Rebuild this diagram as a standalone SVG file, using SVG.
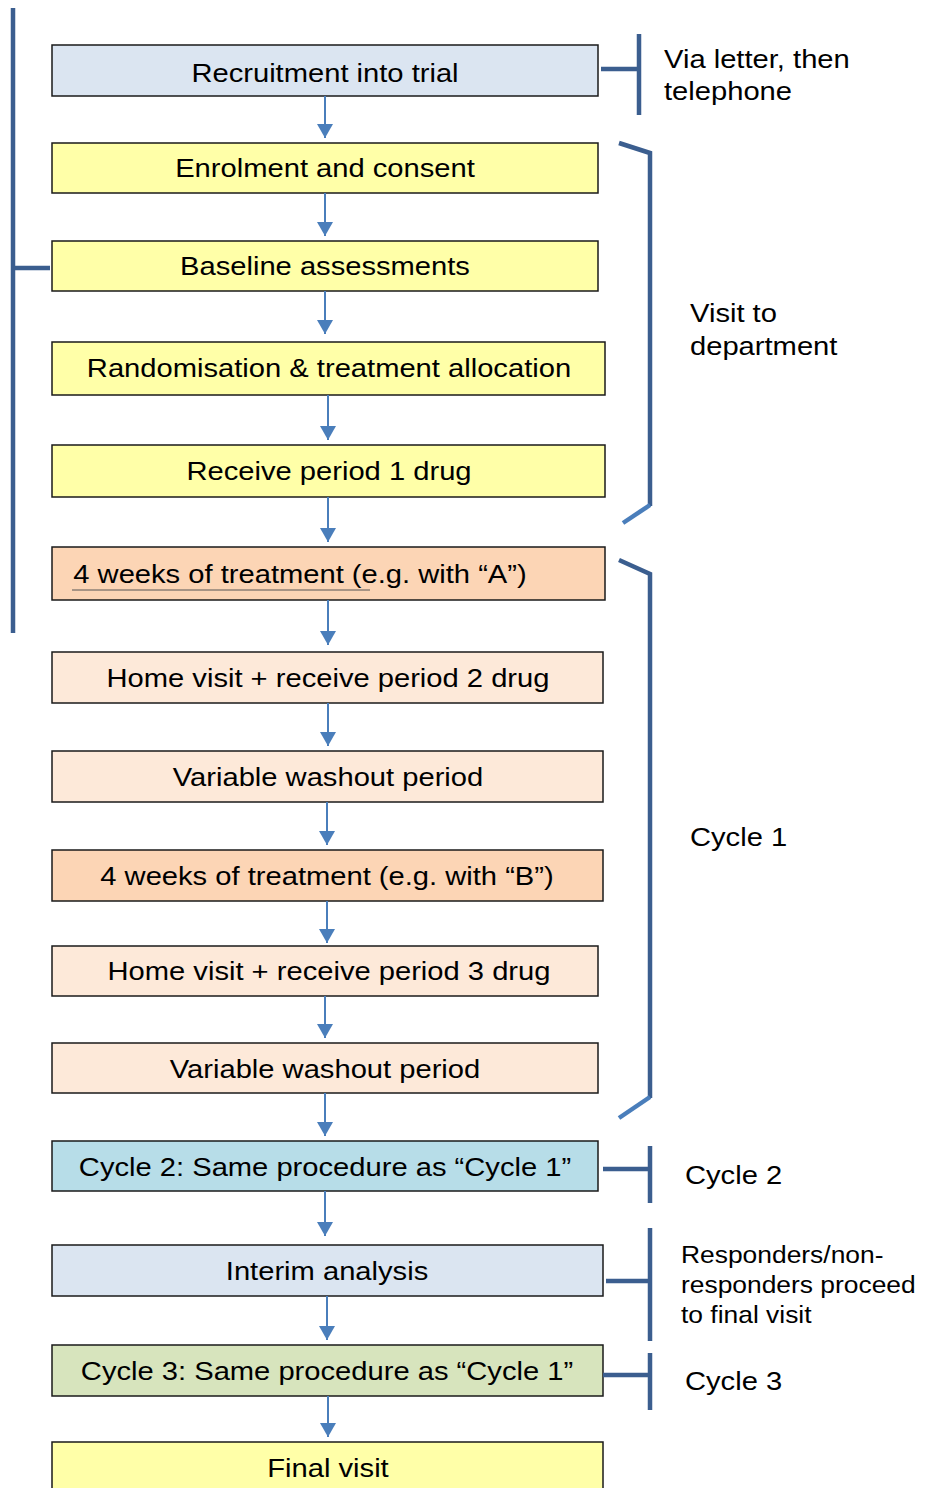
<svg xmlns="http://www.w3.org/2000/svg" width="935" height="1488" viewBox="0 0 935 1488">
<style>
.box{stroke:#1a1a1a;stroke-width:1.5}
.t{font-family:"Liberation Sans",Arial,sans-serif;font-size:26.5px;fill:#000}
.tm{text-anchor:middle}
.s{font-size:24px}
.arr{stroke:#4a7ebb;stroke-width:2;fill:none}
.br{stroke:#3b5e8f;stroke-width:4.5;fill:none}
.brl{stroke:#4a7ebb;stroke-width:4.5;fill:none}
.blue{fill:#dbe5f1}.yel{fill:#ffffa8}.org{fill:#fcd5b5}.pch{fill:#fde9d9}.cy{fill:#b7dde8}.grn{fill:#d7e4bd}
</style>
<defs>
<marker id="ah" viewBox="0 0 14 16" refX="14" refY="8" markerWidth="14" markerHeight="16" markerUnits="userSpaceOnUse" orient="auto">
<path d="M0,0 L14,8 L0,16 z" fill="#4a7ebb"/>
</marker>
</defs>
<rect width="935" height="1488" fill="#fff"/>

<g id="n1"><rect class="box blue" x="52" y="45" width="546" height="51"/><text class="t tm" transform="translate(325,82) scale(1.1,1)">Recruitment into trial</text></g>
<g id="n2"><rect class="box yel" x="52" y="143" width="546" height="50"/><text class="t tm" transform="translate(325,177) scale(1.1,1)">Enrolment and consent</text></g>
<g id="n3"><rect class="box yel" x="52" y="241" width="546" height="50"/><text class="t tm" transform="translate(325,275) scale(1.1,1)">Baseline assessments</text></g>
<g id="n4"><rect class="box yel" x="52" y="342" width="553" height="53"/><text class="t tm" transform="translate(329,377) scale(1.1,1)">Randomisation &amp; treatment allocation</text></g>
<g id="n5"><rect class="box yel" x="52" y="445" width="553" height="52"/><text class="t tm" transform="translate(329,480) scale(1.1,1)">Receive period 1 drug</text></g>
<g id="n6"><rect class="box org" x="52" y="547" width="553" height="53"/><text class="t tm" transform="translate(300,583) scale(1.1,1)">4 weeks of treatment (e.g. with “A”)</text><line x1="72" y1="590" x2="370" y2="590" stroke="#555" stroke-width="1"/></g>
<g id="n7"><rect class="box pch" x="52" y="652" width="551" height="51"/><text class="t tm" transform="translate(328,687) scale(1.1,1)">Home visit + receive period 2 drug</text></g>
<g id="n8"><rect class="box pch" x="52" y="751" width="551" height="51"/><text class="t tm" transform="translate(328,786) scale(1.1,1)">Variable washout period</text></g>
<g id="n9"><rect class="box org" x="52" y="850" width="551" height="51"/><text class="t tm" transform="translate(327,885) scale(1.1,1)">4 weeks of treatment (e.g. with “B”)</text></g>
<g id="n10"><rect class="box pch" x="52" y="946" width="546" height="50"/><text class="t tm" transform="translate(329,980) scale(1.1,1)">Home visit + receive period 3 drug</text></g>
<g id="n11"><rect class="box pch" x="52" y="1043" width="546" height="50"/><text class="t tm" transform="translate(325,1078) scale(1.1,1)">Variable washout period</text></g>
<g id="n12"><rect class="box cy" x="52" y="1141" width="546" height="50"/><text class="t tm" transform="translate(325,1176) scale(1.1,1)">Cycle 2: Same procedure as “Cycle 1”</text></g>
<g id="n13"><rect class="box blue" x="52" y="1245" width="551" height="51"/><text class="t tm" transform="translate(327,1280) scale(1.1,1)">Interim analysis</text></g>
<g id="n14"><rect class="box grn" x="52" y="1345" width="551" height="51"/><text class="t tm" transform="translate(327,1380) scale(1.1,1)">Cycle 3: Same procedure as “Cycle 1”</text></g>
<g id="n15"><rect class="box yel" x="52" y="1442" width="551" height="60"/><text class="t tm" transform="translate(328,1477) scale(1.1,1)">Final visit</text></g>

<g id="connectors">
<line class="arr" x1="325" y1="96" x2="325" y2="138" marker-end="url(#ah)"/>
<line class="arr" x1="325" y1="193" x2="325" y2="236" marker-end="url(#ah)"/>
<line class="arr" x1="325" y1="291" x2="325" y2="334" marker-end="url(#ah)"/>
<line class="arr" x1="328" y1="395" x2="328" y2="440" marker-end="url(#ah)"/>
<line class="arr" x1="328" y1="497" x2="328" y2="542" marker-end="url(#ah)"/>
<line class="arr" x1="328" y1="600" x2="328" y2="645" marker-end="url(#ah)"/>
<line class="arr" x1="328" y1="703" x2="328" y2="746" marker-end="url(#ah)"/>
<line class="arr" x1="327" y1="802" x2="327" y2="845" marker-end="url(#ah)"/>
<line class="arr" x1="327" y1="901" x2="327" y2="943" marker-end="url(#ah)"/>
<line class="arr" x1="325" y1="996" x2="325" y2="1038" marker-end="url(#ah)"/>
<line class="arr" x1="325" y1="1093" x2="325" y2="1136" marker-end="url(#ah)"/>
<line class="arr" x1="325" y1="1191" x2="325" y2="1236" marker-end="url(#ah)"/>
<line class="arr" x1="327" y1="1296" x2="327" y2="1340" marker-end="url(#ah)"/>
<line class="arr" x1="328" y1="1396" x2="328" y2="1437" marker-end="url(#ah)"/>
</g>

<g id="brackets">
<path class="br" d="M13,8 V633 M13,268 H50"/>
<path class="br" d="M639,34 V115 M601,69 H639"/>
<path class="br" d="M619,143 L650,153 V506"/>
<path class="brl" d="M650,505 L623,523"/>
<path class="br" d="M619,560 L650,574 V1098"/>
<path class="brl" d="M650,1097 L619,1118"/>
<path class="br" d="M650,1146 V1203 M603,1169 H650"/>
<path class="br" d="M650,1228 V1341 M606,1281 H650"/>
<path class="br" d="M650,1353 V1410 M603,1375 H650"/>
</g>

<g id="labels">
<text class="t" transform="translate(664,68) scale(1.1,1)"><tspan x="0" y="0">Via letter, then</tspan><tspan x="0" y="32">telephone</tspan></text>
<text class="t" transform="translate(690,322) scale(1.1,1)"><tspan x="0" y="0">Visit to</tspan><tspan x="0" y="33">department</tspan></text>
<text class="t" transform="translate(690,846) scale(1.1,1)">Cycle 1</text>
<text class="t" transform="translate(685,1184) scale(1.1,1)">Cycle 2</text>
<text class="t s" transform="translate(681,1263) scale(1.1,1)"><tspan x="0" y="0">Responders/non-</tspan><tspan x="0" y="30">responders proceed</tspan><tspan x="0" y="60">to final visit</tspan></text>
<text class="t" transform="translate(685,1390) scale(1.1,1)">Cycle 3</text>
</g>
</svg>
